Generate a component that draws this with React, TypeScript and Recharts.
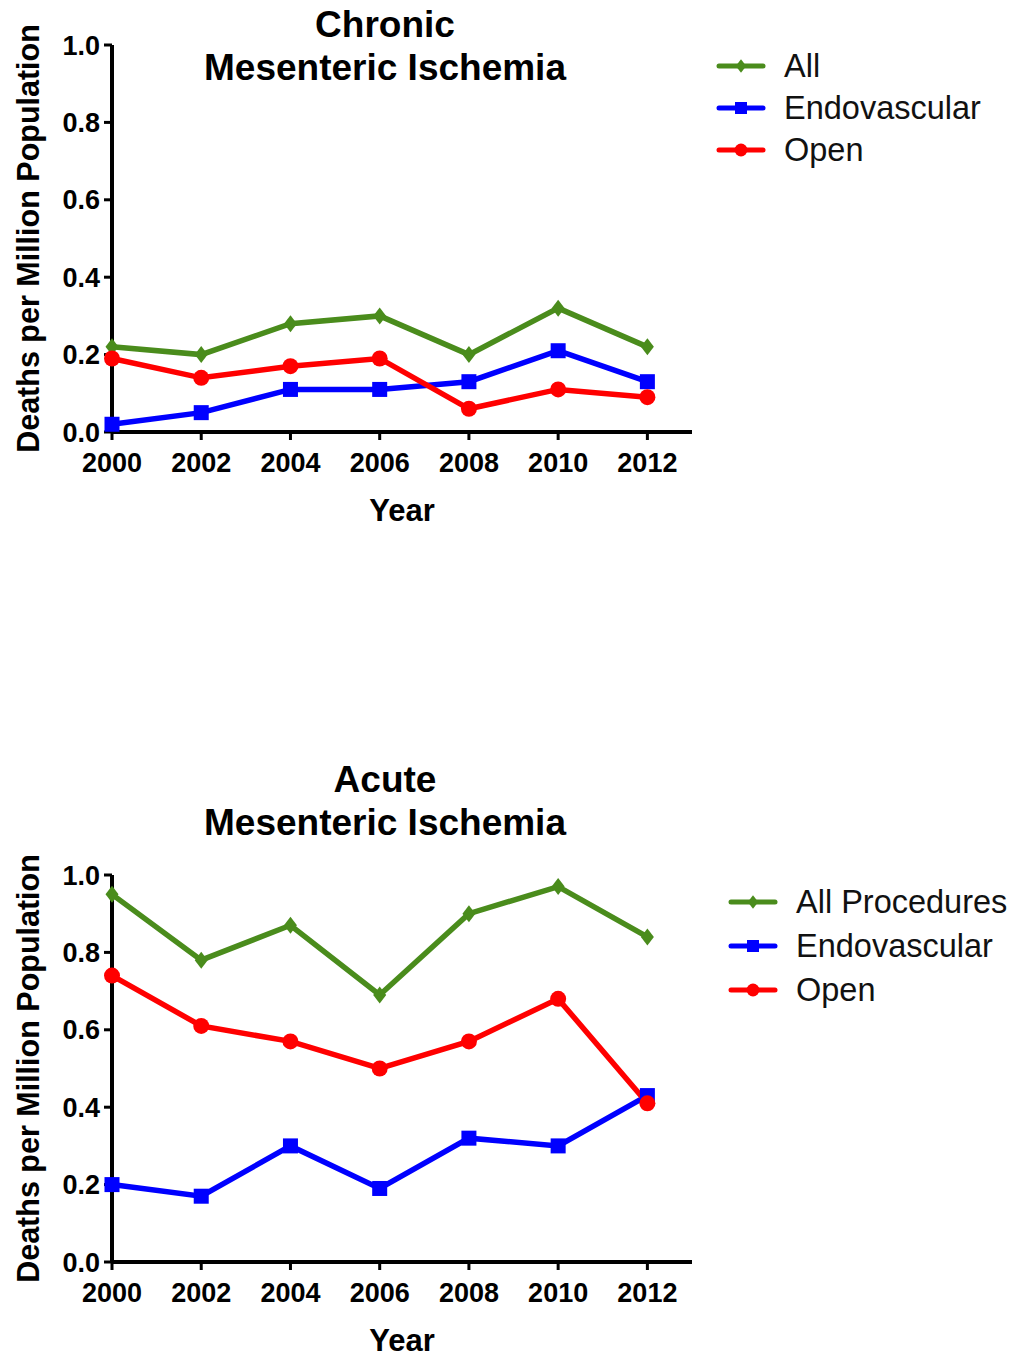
import { LineChart, Line, XAxis, YAxis, Legend } from 'recharts'

const years = [2000, 2002, 2004, 2006, 2008, 2010, 2012]

const chronicAll = [0.22, 0.2, 0.28, 0.3, 0.2, 0.32, 0.22]
const chronicEndo = [0.02, 0.05, 0.11, 0.11, 0.13, 0.21, 0.13]
const chronicOpen = [0.19, 0.14, 0.17, 0.19, 0.06, 0.11, 0.09]

const acuteAll = [0.95, 0.78, 0.87, 0.69, 0.9, 0.97, 0.84]
const acuteEndo = [0.2, 0.17, 0.3, 0.19, 0.32, 0.3, 0.43]
const acuteOpen = [0.74, 0.61, 0.57, 0.5, 0.57, 0.68, 0.41]

const xTicks = [2000, 2002, 2004, 2006, 2008, 2010, 2012]
const yTicks = [0, 0.2, 0.4, 0.6, 0.8, 1.0]

const GREEN = '#4a8c1c'
const BLUE = '#0000ff'
const RED = '#ff0000'
const FONT = '"Liberation Sans", Arial, Helvetica, sans-serif'

const toRows = (all: number[], endo: number[], open: number[]) =>
  years.map((year, i) => ({ year, all: all[i], endo: endo[i], open: open[i] }))

function Marker({ kind, cx, cy, color, s = 1 }: { kind: string; cx: number; cy: number; color: string; s?: number }) {
  if (kind === 'all') {
    const w = 6.5 * s
    const h = 8.5 * s
    return <polygon points={`${cx},${cy - h} ${cx + w},${cy} ${cx},${cy + h} ${cx - w},${cy}`} fill={color} />
  }
  if (kind === 'endo') {
    const r = 7.5 * s
    return <rect x={cx - r} y={cy - r} width={r * 2} height={r * 2} fill={color} />
  }
  return <circle cx={cx} cy={cy} r={8 * s} fill={color} />
}

const dotFor = (kind: string, color: string) => (p: any) => {
  if (p.cx == null || p.cy == null) return <g key={`${kind}-${p.index}`} />
  return <Marker key={`${kind}-${p.index}`} kind={kind} cx={p.cx} cy={p.cy} color={color} />
}

function LegendBox({ payload, rowHeight }: any) {
  return (
    <div style={{ fontFamily: FONT }}>
      {(payload || []).map((item: any) => (
        <div key={item.dataKey} style={{ display: 'flex', alignItems: 'center', height: rowHeight }}>
          <svg width={50} height={20} style={{ marginRight: 18 }}>
            <line x1={3} y1={10} x2={47} y2={10} stroke={item.color} strokeWidth={5} strokeLinecap="round" />
            <Marker kind={item.dataKey} cx={25} cy={10} color={item.color} s={0.8} />
          </svg>
          <span style={{ fontSize: 32.5, color: '#111', lineHeight: 1 }}>{item.value}</span>
        </div>
      ))}
    </div>
  )
}

interface PanelProps {
  top: number
  titleTop: number
  title: string
  rows: any[]
  allName: string
  legendLeft: number
  legendTop: number
  legendRow: number
}

function Panel({ top, titleTop, title, rows, allName, legendLeft, legendTop, legendRow }: PanelProps) {
  return (
    <>
      <div
        style={{
          position: 'absolute',
          left: 85,
          top: titleTop,
          width: 600,
          textAlign: 'center',
          fontFamily: FONT,
          fontWeight: 'bold',
          fontSize: 37,
          lineHeight: '43px',
          color: '#000',
        }}
      >
        <div>{title}</div>
        <div>Mesenteric Ischemia</div>
      </div>
      <div style={{ position: 'absolute', left: 0, top }}>
        <LineChart
          width={1015}
          height={527}
          data={rows}
          margin={{ top: 45, right: 323, left: 12, bottom: 2 }}
          style={{ fontFamily: FONT }}
        >
          <XAxis
            dataKey="year"
            type="number"
            domain={[2000, 2013]}
            ticks={xTicks}
            interval={0}
            height={93}
            axisLine={{ stroke: '#000', strokeWidth: 4 }}
            tickLine={{ stroke: '#000', strokeWidth: 3 }}
            tickSize={8}
            tickMargin={13}
            tick={{ fill: '#000', fontSize: 27, fontWeight: 'bold' }}
            label={{ value: 'Year', position: 'insideBottom', offset: 4, fill: '#000', fontSize: 31, fontWeight: 'bold' }}
          />
          <YAxis
            type="number"
            domain={[0, 1]}
            ticks={yTicks}
            width={100}
            axisLine={{ stroke: '#000', strokeWidth: 4 }}
            tickLine={{ stroke: '#000', strokeWidth: 3 }}
            tickSize={8}
            tickMargin={4}
            tickFormatter={(v: number) => v.toFixed(1)}
            tick={{ fill: '#000', fontSize: 27, fontWeight: 'bold' }}
            label={{
              value: 'Deaths per Million Population',
              angle: -90,
              position: 'insideLeft',
              offset: 16,
              fill: '#000',
              fontSize: 30.5,
              fontWeight: 'bold',
              style: { textAnchor: 'middle' },
            }}
          />
          <Legend
            layout="vertical"
            align="center"
            verticalAlign="middle"
            wrapperStyle={{ left: legendLeft, top: legendTop, width: 300 }}
            content={(props: any) => <LegendBox {...props} rowHeight={legendRow} />}
          />
          <Line
            dataKey="all"
            name={allName}
            stroke={GREEN}
            strokeWidth={5.5}
            dot={dotFor('all', GREEN)}
            isAnimationActive={false}
          />
          <Line
            dataKey="endo"
            name="Endovascular"
            stroke={BLUE}
            strokeWidth={5.5}
            dot={dotFor('endo', BLUE)}
            isAnimationActive={false}
          />
          <Line
            dataKey="open"
            name="Open"
            stroke={RED}
            strokeWidth={5.5}
            dot={dotFor('open', RED)}
            isAnimationActive={false}
          />
        </LineChart>
      </div>
    </>
  )
}

export default function App() {
  return (
    <div style={{ position: 'absolute', left: 0, top: 0, width: 1015, height: 1357, background: '#fff', overflow: 'hidden' }}>
      <Panel
        top={0}
        titleTop={3}
        title="Chronic"
        rows={toRows(chronicAll, chronicEndo, chronicOpen)}
        allName="All"
        legendLeft={716}
        legendTop={45}
        legendRow={42}
      />
      <Panel
        top={830}
        titleTop={758}
        title="Acute"
        rows={toRows(acuteAll, acuteEndo, acuteOpen)}
        allName="All Procedures"
        legendLeft={728}
        legendTop={50}
        legendRow={44}
      />
    </div>
  )
}
